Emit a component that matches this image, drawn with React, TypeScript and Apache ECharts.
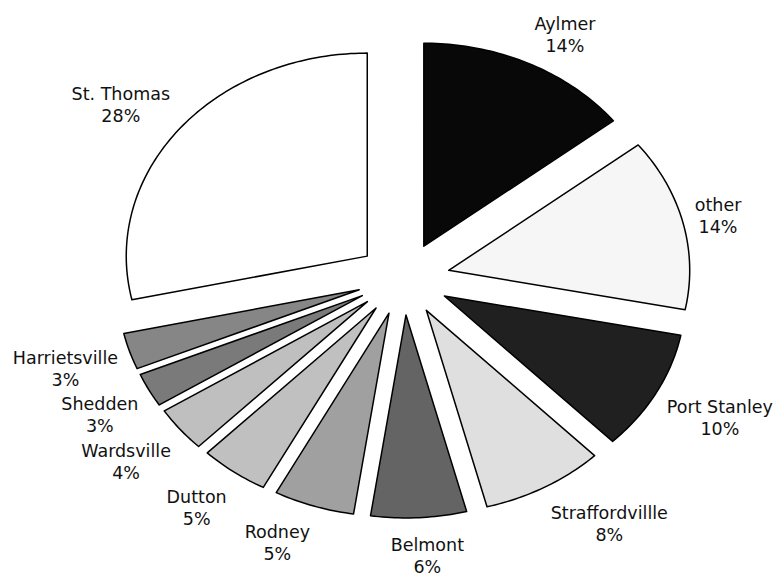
import React, { useEffect, useRef } from "react";
import * as echarts from "echarts";

const categories = [
  "Aylmer",
  "other",
  "Port Stanley",
  "Straffordvillle",
  "Belmont",
  "Rodney",
  "Dutton",
  "Wardsville",
  "Shedden",
  "Harrietsville",
  "St. Thomas",
];
const values = [14.4, 13.7, 9.6, 8.25, 6.4, 5.4, 4.6, 3.6, 2.7, 2.9, 28.45];
const colors = [
  "#080808",
  "#f6f6f6",
  "#202020",
  "#dfdfdf",
  "#646464",
  "#a0a0a0",
  "#c0c0c0",
  "#bfbfbf",
  "#7a7a7a",
  "#868686",
  "#ffffff",
];

export default function App() {
  const ref = useRef<HTMLDivElement>(null);
  useEffect(() => {
    const chart = echarts.init(ref.current!, null, { renderer: "svg" });
    const total = values.reduce((a, b) => a + b, 0);
    const starts: number[] = [];
    let acc = 0;
    values.forEach((v) => {
      starts.push(acc);
      acc += v;
    });
    const CX = 403.5, CY = 278.8, RX = 241, RY = 203, OX = 46.5, OY = 36.2, GAP = 12;
    const FONT = 17.5, LH = 22, FAMILY = "DejaVu Sans";
    const ctx = document.createElement("canvas").getContext("2d")!;
    ctx.font = `${FONT}px "${FAMILY}"`;
    const clamp = (x: number) => Math.max(-1, Math.min(1, x));

    const renderItem = (params: any, api: any) => {
      const i = params.dataIndex;
      const v = api.value(1);
      const a0 = (starts[i] / total) * 2 * Math.PI;
      const a1 = ((starts[i] + v) / total) * 2 * Math.PI;
      const am = (a0 + a1) / 2;
      const s = Math.sin(am), c = Math.cos(am);
      const tx = CX + OX * s, ty = CY - OY * c;
      const pts: number[][] = [[tx, ty]];
      const n = Math.max(2, Math.ceil((a1 - a0) / (Math.PI / 180)));
      for (let k = 0; k <= n; k++) {
        const a = a0 + ((a1 - a0) * k) / n;
        pts.push([tx + RX * Math.sin(a), ty - RY * Math.cos(a)]);
      }
      const pct = Math.round((v / total) * 100);
      const name = categories[i];
      const w = Math.max(ctx.measureText(name).width, ctx.measureText(pct + "%").width);
      const h = LH * 2;
      const ax = tx + (RX + GAP) * s, ay = ty - (RY + GAP) * c;
      const lx = ax + (w / 2) * clamp(4 * s);
      const ly = ay + (h / 2) * clamp(-1.5 * c) + 4;
      return {
        type: "group",
        children: [
          {
            type: "polygon",
            shape: { points: pts },
            style: { fill: colors[i], stroke: "#000", lineWidth: 1.5, lineJoin: "round" },
          },
          {
            type: "text",
            x: lx,
            y: ly,
            style: {
              text: `${name}\n${pct}%`,
              fill: "#111",
              fontSize: FONT,
              fontFamily: FAMILY,
              align: "center",
              verticalAlign: "middle",
              textAlign: "center",
              textVerticalAlign: "middle",
              lineHeight: LH,
            },
          },
        ],
      };
    };

    chart.setOption({
      animation: false,
      backgroundColor: "#ffffff",
      series: [
        {
          type: "custom",
          coordinateSystem: "none",
          renderItem,
          data: values.map((v, i) => [i, v]),
        },
      ],
    });
    return () => chart.dispose();
  }, []);
  return (
    <div
      ref={ref}
      style={{ position: "fixed", left: 0, top: 0, width: 784, height: 577 }}
    />
  );
}
